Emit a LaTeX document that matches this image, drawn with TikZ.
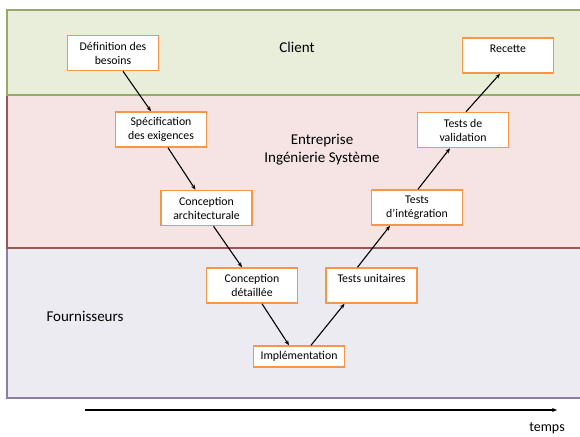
\documentclass[tikz,border=0pt]{standalone}
\usepackage{fontspec}
\setmainfont{Carlito}
\usetikzlibrary{arrows.meta}
\definecolor{orangeetape}{HTML}{F79646}
\definecolor{vertfond}{HTML}{E9EEDB}
\definecolor{verttrait}{HTML}{98AA66}
\definecolor{rosefond}{HTML}{F6E4E4}
\definecolor{rosetrait}{HTML}{9A5656}
\definecolor{mauvefond}{HTML}{EDEBF2}
\definecolor{mauvetrait}{HTML}{8C7CA8}
\tikzset{etape/.style={draw=#1,line width=1.5pt,fill=white,minimum width=91pt,minimum height=35pt,align=center,inner sep=2pt,font=\fontsize{11.8}{14}\selectfont},etape/.default=orangeetape}
\tikzset{couche/.style args={#1/#2}{draw=#1,fill=#2,line width=1.5pt}}
\tikzset{fleche/.style={-{Stealth[length=5pt,width=4pt]},line width=1.1pt,color=#1},fleche/.default=black}
\tikzset{titre/.style={font=\fontsize{15}{18}\selectfont,align=center}}

\begin{document}
\begin{tikzpicture}[x=1pt,y=-1pt]
		\useasboundingbox (0,0) rectangle (580,436);
		\fill [white] (0,0) rectangle (580,436);

		\draw [couche=mauvetrait/mauvefond] (7,248) rectangle (600,398);
		\draw [couche=rosetrait/rosefond] (7,95) rectangle (600,248);
		\draw [couche=verttrait/vertfond] (7,10) rectangle (600,95);

		\node [titre] (client) at (297,47) {Client};
		\node [titre] (entreprise) at (322,150) {Entreprise\\Ingénierie Système};
		\node [titre] (fournisseurs) at (85,316) {Fournisseurs};

		\node [etape] (def) at (113,53) {Définition des\\besoins};
		\node [etape] (spec) at (161,129.5) {Spécification\\des exigences};
		\node [etape] (archi) at (206.5,208) {Conception\\architecturale};
		\node [etape] (detail) at (252,285.5) {Conception\\détaillée};
		\node [etape,minimum height=21pt] (impl) at (299,356.5) {Implémentation};
		\node [etape] (unit) at (371.5,285.5) {Tests unitaires\\\mbox{}};
		\node [etape] (integ) at (417,207.5) {Tests\\d’intégration};
		\node [etape] (valid) at (463,130) {Tests de\\validation};
		\node [etape] (recette) at (508,55.5) {Recette\\\mbox{}};

		\draw [fleche] ([xshift=10pt]def.south) -- ([xshift=-10pt]spec.north);
		\draw [fleche] ([xshift=7pt]spec.south) -- ([xshift=-11pt]archi.north);
		\draw [fleche] ([xshift=7pt]archi.south) -- ([xshift=-10pt]detail.north);
		\draw [fleche] ([xshift=10pt]detail.south) -- ([xshift=-10pt]impl.north);
		\draw [fleche] ([xshift=12pt]impl.north) -- ([xshift=-27pt]unit.south);
		\draw [fleche] ([xshift=-14pt]unit.north) -- ([xshift=-27pt]integ.south);
		\draw [fleche] ([xshift=1pt]integ.north) -- ([xshift=-13pt]valid.south);
		\draw [fleche] ([xshift=3pt]valid.north) -- ([xshift=-8pt]recette.south);

		\coordinate (t0) at (85,410);
		\coordinate (t1) at (557,410);
		\draw [fleche] (t0) -- (t1);
		\node [titre,font=\fontsize{14}{16}\selectfont] (temps) at (547,428) {temps};
	\end{tikzpicture}
\end{document}
